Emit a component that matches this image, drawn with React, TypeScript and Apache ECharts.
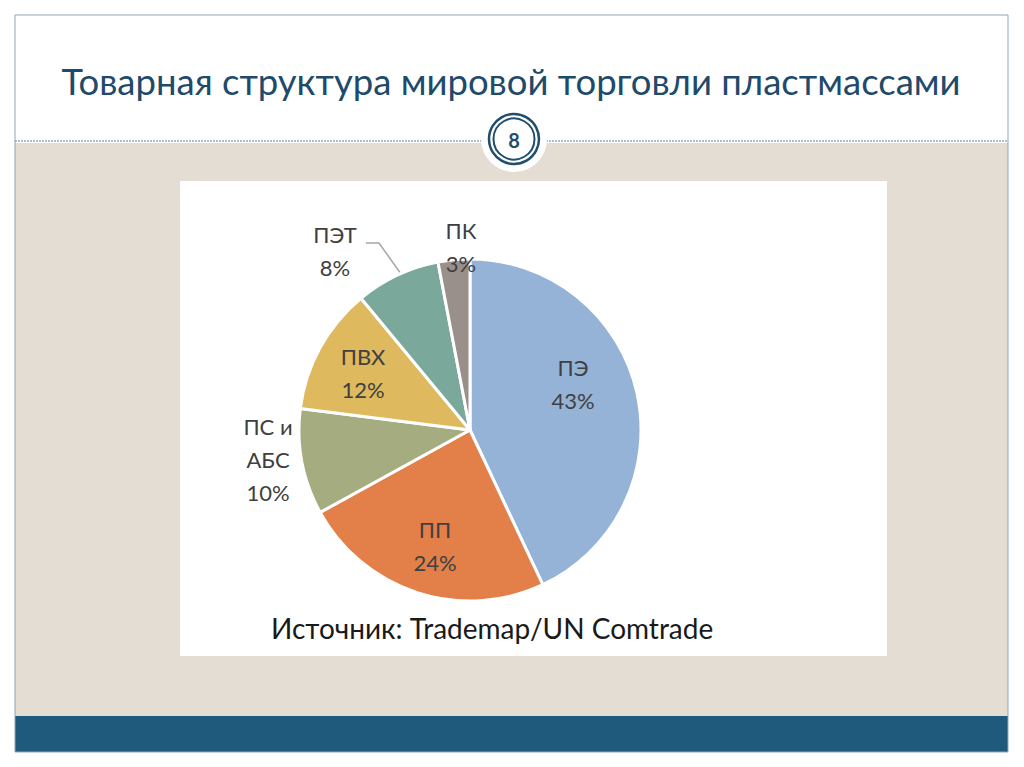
import React, { useEffect, useRef } from "react";
import * as echarts from "echarts";

const title = "Товарная структура мировой торговли пластмассами";
const slideNumber = "8";
const source = "Источник: Trademap/UN Comtrade";
const categories = ["ПЭ", "ПП", "ПС и АБС", "ПВХ", "ПЭТ", "ПК"];
const shares = [43, 24, 10, 12, 8, 3];
const colors = ["#95b3d7", "#e3804a", "#a5ad80", "#dfb95e", "#7aa89b", "#9a908b"];

// label centres (px) for each slice, as placed in the reference
const labelPos: [number, number][] = [
  [573, 384],
  [435, 546],
  [268, 459],
  [363, 373],
  [335, 251],
  [461, 247],
];

export default function App() {
  const ref = useRef<HTMLDivElement>(null);
  useEffect(() => {
    if (!ref.current) return;
    const chart = echarts.init(ref.current, null, { renderer: "svg" });
    const font = "Lato, 'Open Sans', sans-serif";
    chart.setOption({
      animation: false,
      backgroundColor: "#ffffff",
      graphic: [
        { type: "rect", shape: { x: 15, y: 143, width: 993, height: 573 }, style: { fill: "#e3ddd3" }, z: 0 },
        { type: "rect", shape: { x: 15, y: 716, width: 993, height: 36 }, style: { fill: "#1f5a7c" }, z: 0 },
        { type: "rect", shape: { x: 15, y: 15, width: 993, height: 737 }, style: { fill: "none", stroke: "#8aa7bc", lineWidth: 1 }, z: 1 },
        { type: "rect", shape: { x: 180, y: 181, width: 707, height: 475 }, style: { fill: "#ffffff" }, z: 1 },
        { type: "line", shape: { x1: 15, y1: 141, x2: 1008, y2: 141 }, style: { stroke: "#5b7d98", lineWidth: 1, lineDash: [2, 1] }, z: 2 },
        { type: "circle", shape: { cx: 514, cy: 139, r: 33 }, style: { fill: "#ffffff" }, z: 3 },
        { type: "circle", shape: { cx: 514, cy: 139, r: 25 }, style: { fill: "none", stroke: "#1f4e6e", lineWidth: 2.5 }, z: 4 },
        { type: "circle", shape: { cx: 514, cy: 139, r: 20.5 }, style: { fill: "none", stroke: "#1f4e6e", lineWidth: 2 }, z: 4 },
        { type: "text", x: 514, y: 140, style: { text: slideNumber, fill: "#1f4e6e", font: `bold 20px ${font}`, align: "center", verticalAlign: "middle" }, z: 5 },
        { type: "text", x: 511, y: 81, style: { text: title, fill: "#1e4a6b", font: `36.5px ${font}`, align: "center", verticalAlign: "middle" }, z: 5 },
        { type: "text", x: 271, y: 628, style: { text: source, fill: "#1a1a1a", font: `28px ${font}`, align: "left", verticalAlign: "middle" }, z: 5 },
      ],
      series: [
        {
          type: "pie",
          center: [470, 430],
          radius: 171,
          startAngle: 90,
          clockwise: true,
          z: 3,
          itemStyle: { borderColor: "#ffffff", borderWidth: 3 },
          label: {
            show: true,
            position: "outside",
            color: "#404040",
            fontSize: 22,
            lineHeight: 33,
            fontFamily: font,
            align: "center",
            formatter: (p: any) => `${String(p.name).replace(" и ", " и\n")}\n${p.value}%`,
          },
          labelLine: { show: false },
          labelLayout: (p: any) => {
            const [x, y] = labelPos[p.dataIndex];
            const res: any = { x, y, align: "center", verticalAlign: "middle" };
            if (p.dataIndex === 4) {
              res.labelLinePoints = [[366, 243], [379, 243], [401, 274]];
            }
            return res;
          },
          data: categories.map((c, i) => ({
            name: c,
            value: shares[i],
            itemStyle: { color: colors[i] },
            labelLine: { show: i === 4, lineStyle: { color: "#a6a6a6", width: 1.5 } },
          })),
        },
      ],
    });
    return () => chart.dispose();
  }, []);
  return <div ref={ref} style={{ position: "fixed", left: 0, top: 0, width: 1024, height: 767 }} />;
}
